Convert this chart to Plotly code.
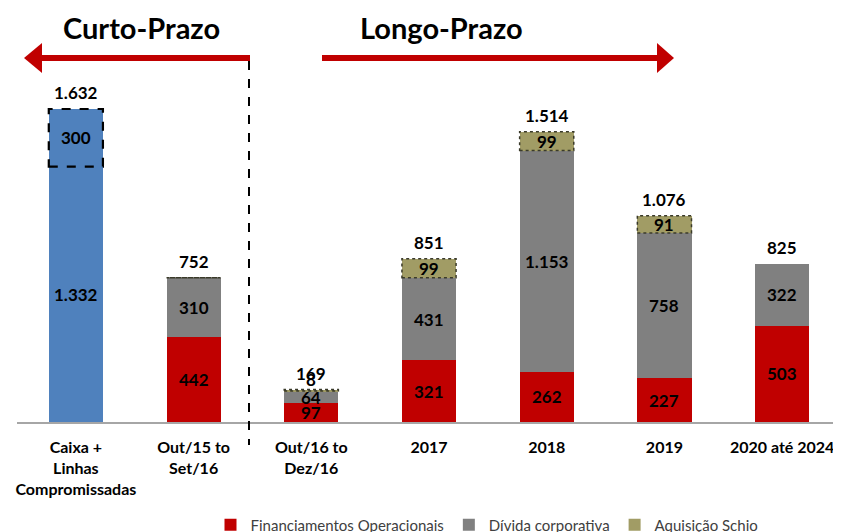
import plotly.graph_objects as go

categories = ["Caixa +<br>Linhas<br>Compromissadas", "Out/15 to<br>Set/16", "Out/16 to<br>Dez/16",
              "2017", "2018", "2019", "2020 até 2024"]
caixa = [1332, None, None, None, None, None, None]
caixa_extra = [300, None, None, None, None, None, None]
financiamentos = [None, 442, 97, 321, 262, 227, 503]
divida = [None, 310, 64, 431, 1153, 758, 322]
schio = [None, 0, 8, 99, 99, 91, None]

FONT = "Lato"
RED = "#C00000"
GRAY = "#808080"
BLUE = "#4F81BD"
OLIVE = "#A19C65"
BAR_W = 0.46


def fmt(v):
    return f"{v:,}".replace(",", ".")


fig = go.Figure()
series = [
    ("Caixa", caixa, BLUE, False),
    ("Caixa extra", caixa_extra, BLUE, False),
    ("Financiamentos Operacionais", financiamentos, RED, True),
    ("Dívida corporativa", divida, GRAY, True),
    ("Aquisição Schio", schio, OLIVE, True),
]
for name, vals, col, show in series:
    fig.add_trace(go.Bar(x=categories, y=vals, name=name, marker_color=col,
                         marker_line_width=0, showlegend=show, width=BAR_W))

LABEL_FONT = dict(family=FONT, size=17, color="black", weight="bold")
annotations = []
shapes = []
base = [0] * len(categories)
for name, vals, col, show in series:
    for i, v in enumerate(vals):
        if v is None:
            continue
        y0 = base[i]
        y1 = y0 + v
        if v > 0:
            if v >= 40:
                annotations.append(dict(x=i, y=(y0 + y1) / 2, xref="x", yref="y",
                                        xanchor="center", yanchor="middle",
                                        text=fmt(v), showarrow=False, font=LABEL_FONT))
            else:
                annotations.append(dict(x=i, y=y1, xref="x", yref="y", xanchor="center", yanchor="bottom",
                                        text=fmt(v), showarrow=False, yshift=-2, font=LABEL_FONT))
        if name == "Caixa extra":
            shapes.append(dict(type="rect", xref="x", yref="y", x0=i - BAR_W / 2, x1=i + BAR_W / 2,
                               y0=y0, y1=y1, line=dict(color="black", width=2.2, dash="dash")))
        if name == "Aquisição Schio":
            shapes.append(dict(type="rect", xref="x", yref="y", x0=i - BAR_W / 2, x1=i + BAR_W / 2,
                               y0=y0, y1=y1, line=dict(color="#3A3A2A", width=1.5, dash="dot")))
        base[i] = y1

for i, tot in enumerate(base):
    annotations.append(dict(x=i, y=tot, xref="x", yref="y", xanchor="center", yanchor="bottom",
                            text=fmt(tot), showarrow=False, yshift=4, font=LABEL_FONT))

# The page body adds an 8px offset; positions below are in window pixels.
OFF = 8
L, R = 17, 841          # plot left/right in window px
BASE_Y = 422            # baseline in window px
TOP_Y = OFF             # plot top in window px (figure top)
W = R - L
H = BASE_Y - TOP_Y
SCALE = (422 - 109) / 1632.0  # px per unit
YMAX = H / SCALE


def px(x):
    return (x - L) / W


def py(y):
    return (BASE_Y - y) / H


TITLE_FONT = dict(family=FONT, size=29, color="black", weight="bold")
annotations.append(dict(x=px(141), y=py(28), xref="paper", yref="paper", text="Curto-Prazo",
                        xanchor="center", yanchor="middle", showarrow=False, font=TITLE_FONT))
annotations.append(dict(x=px(441), y=py(28), xref="paper", yref="paper", text="Longo-Prazo",
                        xanchor="center", yanchor="middle", showarrow=False, font=TITLE_FONT))

shapes += [
    dict(type="line", xref="paper", yref="paper", x0=px(250), x1=px(40), y0=py(58), y1=py(58),
         line=dict(color=RED, width=6)),
    dict(type="path", xref="paper", yref="paper",
         path=f"M {px(24)},{py(58)} L {px(42)},{py(43)} L {px(42)},{py(73)} Z",
         fillcolor=RED, line=dict(width=0)),
    dict(type="line", xref="paper", yref="paper", x0=px(322), x1=px(659), y0=py(58), y1=py(58),
         line=dict(color=RED, width=6)),
    dict(type="path", xref="paper", yref="paper",
         path=f"M {px(674)},{py(58)} L {px(657)},{py(43)} L {px(657)},{py(73)} Z",
         fillcolor=RED, line=dict(width=0)),
    dict(type="line", xref="paper", yref="paper", x0=px(249), x1=px(249), y0=py(61), y1=py(445),
         line=dict(color="black", width=2, dash="dash")),
]

fig.update_layout(
    width=841, height=532,
    margin=dict(l=L - OFF, r=841 + OFF - R, t=TOP_Y - OFF, b=532 + OFF - BASE_Y, autoexpand=False),
    barmode="stack",
    plot_bgcolor="white", paper_bgcolor="white",
    font=dict(family=FONT),
    xaxis=dict(type="category", range=[-0.5, 6.5], showline=True, linecolor="#A6A6A6", linewidth=1.5,
               showgrid=False, ticks="", automargin=False, ticklabelstandoff=10,
               tickfont=dict(family=FONT, size=16, color="black", weight="bold")),
    yaxis=dict(visible=False, range=[0, YMAX]),
    legend=dict(orientation="h", x=px(487), xanchor="center", y=py(525), yanchor="middle",
                font=dict(family=FONT, size=15, color="#404040"), traceorder="normal"),
    annotations=annotations,
    shapes=shapes,
    showlegend=True,
)

fig.write_html("out.html")
